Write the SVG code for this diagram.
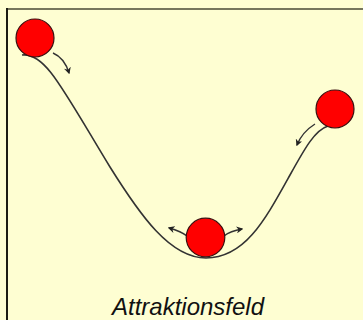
<svg xmlns="http://www.w3.org/2000/svg" width="363" height="320" viewBox="0 0 363 320">
<defs>
<marker id="ah" viewBox="0 0 10 10" refX="8" refY="5" markerWidth="7" markerHeight="7" orient="auto" markerUnits="userSpaceOnUse">
<path d="M0,0 L10,5 L0,10 L3,5 Z" fill="#222"/>
</marker>
<style>
.ball{fill:#ff0000;stroke:#3a1010;stroke-width:1.2}
.curve{fill:none;stroke:#333;stroke-width:1.6}
.arr{fill:none;stroke:#333;stroke-width:1.4;marker-end:url(#ah)}
.lbl{font-family:"Liberation Sans",Arial,sans-serif;font-style:italic;font-size:24px;fill:#111}
</style>
</defs>
<rect x="0" y="0" width="363" height="320" fill="#fefed2"/>
<line x1="7" y1="9" x2="363" y2="9" stroke="#76765c" stroke-width="2"/>
<line x1="7" y1="8" x2="7" y2="320" stroke="#1c1c12" stroke-width="2"/>
<g id="connectors">
<path class="curve" d="M22,55 C45,52 62,88 110,167 C140,215 170,258 206,258 C245,258 265,220 290,175 C305,148 315,130 328,126"/>
<path class="arr" d="M53,53 C60,56 66,63 69,73"/>
<path class="arr" d="M315,124 C307,129 301,135 297,145"/>
<path class="arr" d="M187,236 C182,232 176,230 169,228"/>
<path class="arr" d="M224,236 C229,232 236,230 242,229"/>
</g>
<g id="ball1"><circle class="ball" cx="35" cy="38" r="19"/></g>
<g id="ball2"><circle class="ball" cx="335" cy="109" r="19"/></g>
<g id="ball3"><circle class="ball" cx="205.5" cy="237.5" r="19.3"/></g>
<g id="label"><text class="lbl" x="188" y="315" text-anchor="middle">Attraktionsfeld</text></g>
</svg>
